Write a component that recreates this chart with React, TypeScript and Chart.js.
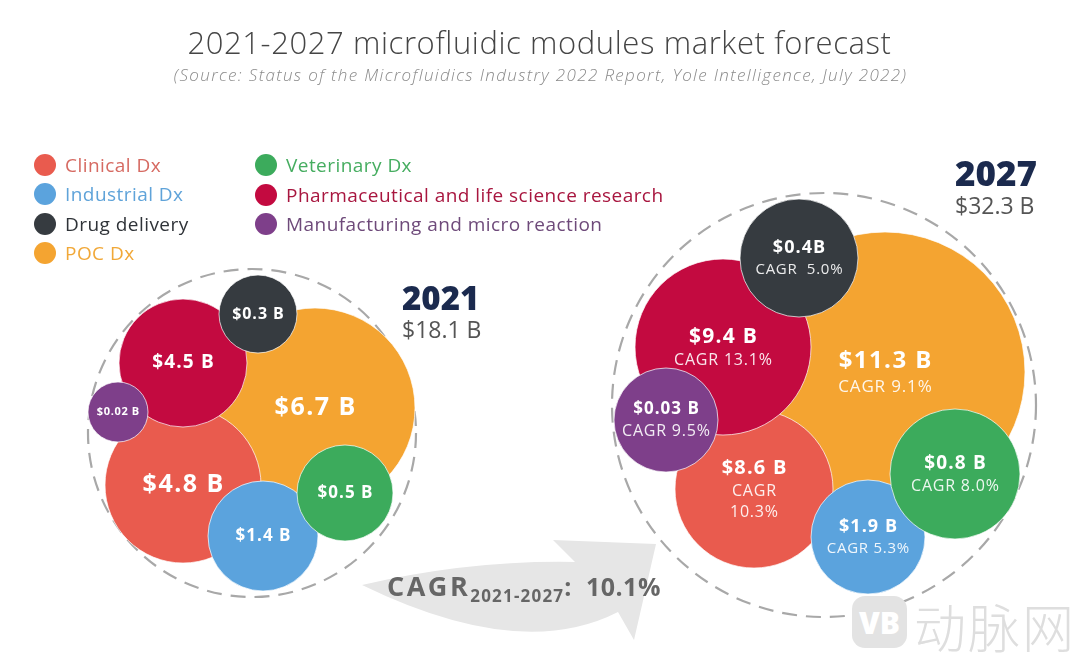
import React, { useEffect, useRef } from 'react';
import { Chart, registerables } from 'chart.js';

Chart.register(...registerables);

// ---------- data ----------
const categories = [
  'Clinical Dx',
  'Industrial Dx',
  'Drug delivery',
  'POC Dx',
  'Veterinary Dx',
  'Pharmaceutical and life science research',
  'Manufacturing and micro reaction',
];
const years = ['2021', '2027'];
const yearTotals = [18.1, 32.3];
const values2021 = [4.8, 1.4, 0.3, 6.7, 0.5, 4.5, 0.02];
const values2027 = [8.6, 1.9, 0.4, 11.3, 0.8, 9.4, 0.03];
const cagr2027 = [10.3, 5.3, 5.0, 9.1, 8.0, 13.1, 9.5];
const overallCagr = 10.1;
const title = '2021-2027 microfluidic modules market forecast';
const subtitle =
  '(Source: Status of the Microfluidics Industry 2022 Report, Yole Intelligence, July 2022)';

// ---------- layout (bubble packing, in canvas units) ----------
const layout2021 = [
  [183, 485, 78],
  [263, 536, 55],
  [258, 314, 39],
  [315, 408, 100],
  [345, 493, 48],
  [183, 363, 64],
  [118, 412, 30],
];
const layout2027 = [
  [754, 489, 79],
  [868, 537, 57],
  [799, 258, 59],
  [885, 372, 140],
  [955, 474, 65],
  [723, 347, 88],
  [666, 420, 52],
];
const rings = [
  { x: 252, y: 433, r: 164 },
  { x: 824, y: 405, r: 212 },
];

// ---------- styles ----------
const colors = ['#e95b4e', '#5ba3dd', '#363b40', '#f4a431', '#3cab5c', '#c30a40', '#7e3f8a'];
const legendTextColors = ['#d66a62', '#5fa3d9', '#2f3338', '#f1a838', '#46ad60', '#a8163f', '#6e4a7a'];
const drawOrder = [6, 2, 4, 7, 1, 5, 3];
const valueFont2021 = [25, 17, 16, 25, 17, 19, 11];
const valueFont2027 = [20, 18, 18, 24, 19, 21, 17];
const cagrFont2027 = [16, 15, 15, 17, 16, 16, 16];
const FONT = '"Open Sans", "DejaVu Sans", sans-serif';

const fmtValue = (v: number, tight = false) => `$${v}${tight ? '' : ' '}B`;

const ringsPlugin = {
  id: 'ringsAndArrow',
  beforeDatasetsDraw(chart: any) {
    const { ctx, scales } = chart;
    const xs = scales.x;
    const ys = scales.y;
    ctx.save();
    const P = (x: number, y: number): [number, number] => [xs.getPixelForValue(x), ys.getPixelForValue(y)];
    // curved arrow
    ctx.fillStyle = '#e6e6e6';
    ctx.beginPath();
    ctx.moveTo(...P(362, 585));
    ctx.quadraticCurveTo(...P(470, 560), ...P(575, 562));
    ctx.lineTo(...P(553, 540));
    ctx.lineTo(...P(656, 544));
    ctx.lineTo(...P(634, 640));
    ctx.lineTo(...P(618, 612));
    ctx.quadraticCurveTo(...P(520, 662), ...P(362, 585));
    ctx.closePath();
    ctx.fill();
    // dashed rings
    ctx.strokeStyle = '#a8a8a8';
    ctx.lineWidth = 2.2;
    ctx.setLineDash([15, 9]);
    rings.forEach((rg) => {
      const [cx, cy] = P(rg.x, rg.y);
      const rr = Math.abs(xs.getPixelForValue(rg.x + rg.r) - cx);
      ctx.beginPath();
      ctx.arc(cx, cy, rr, 0, Math.PI * 2);
      ctx.stroke();
    });
    ctx.restore();
  },
};

const labelPlugin = {
  id: 'bubbleLabels',
  afterDatasetsDraw(chart: any) {
    const ctx = chart.ctx;
    ctx.save();
    ctx.textAlign = 'center';
    ctx.textBaseline = 'middle';
    categories.forEach((_, di) => {
      const meta = chart.getDatasetMeta(di);
      meta.data.forEach((el: any, yi: number) => {
        const lines: { t: string; size: number; bold: boolean }[] = [];
        if (yi === 0) {
          lines.push({ t: fmtValue(values2021[di]), size: valueFont2021[di], bold: true });
        } else {
          lines.push({ t: fmtValue(values2027[di], di === 2), size: valueFont2027[di], bold: true });
          const c = cagr2027[di].toFixed(1) + '%';
          if (di === 0) {
            lines.push({ t: 'CAGR', size: cagrFont2027[di], bold: false });
            lines.push({ t: c, size: cagrFont2027[di], bold: false });
          } else {
            lines.push({ t: (di === 2 ? 'CAGR  ' : 'CAGR ') + c, size: cagrFont2027[di], bold: false });
          }
        }
        const lh = lines.map((l) => l.size * 1.3);
        const total = lh.reduce((a, b) => a + b, 0);
        let y = el.y - total / 2;
        lines.forEach((l, i) => {
          ctx.font = `${l.bold ? 700 : 400} ${l.size}px ${FONT}`;
          const sp = l.bold ? l.size * 0.06 : l.size * 0.05;
          (ctx as any).letterSpacing = `${sp}px`;
          ctx.fillStyle = l.bold ? '#ffffff' : 'rgba(255,255,255,0.9)';
          ctx.fillText(l.t, el.x + sp / 2, y + lh[i] / 2);
          y += lh[i];
        });
      });
    });
    ctx.restore();
  },
};

export default function App() {
  const ref = useRef<HTMLCanvasElement | null>(null);

  useEffect(() => {
    if (!ref.current) return;
    const datasets = categories.map((name, i) => ({
      label: name,
      data: [
        { x: layout2021[i][0], y: layout2021[i][1], r: layout2021[i][2], v: values2021[i] },
        { x: layout2027[i][0], y: layout2027[i][1], r: layout2027[i][2], v: values2027[i] },
      ],
      backgroundColor: colors[i],
      borderColor: 'rgba(255,255,255,0.7)',
      borderWidth: 1,
      hoverRadius: 0,
      clip: false as any,
      order: drawOrder[i],
    }));
    const chart = new Chart(ref.current, {
      type: 'bubble',
      data: { labels: years, datasets },
      options: {
        responsive: false,
        animation: false,
        events: [],
        layout: { padding: 0, autoPadding: false },
        scales: {
          x: { type: 'linear', min: 0, max: 1079, display: false },
          y: { type: 'linear', min: 0, max: 659, reverse: true, display: false },
        },
        plugins: { legend: { display: false }, tooltip: { enabled: false }, title: { display: false } },
      },
      plugins: [ringsPlugin, labelPlugin],
    });
    return () => chart.destroy();
  }, []);

  const legendCol1 = [0, 1, 2, 3];
  const legendCol2 = [4, 5, 6];
  const legendRowY1 = [165, 194, 224, 253];
  const legendRowY2 = [165, 195, 224];

  const legendItem = (i: number, x: number, y: number) => (
    <div
      key={i}
      style={{ position: 'absolute', left: x - 11, top: y - 12, height: 24, display: 'flex', alignItems: 'center' }}
    >
      <span
        style={{ width: 22, height: 22, borderRadius: '50%', background: colors[i], display: 'inline-block', marginRight: 9 }}
      />
      <span style={{ color: legendTextColors[i], fontSize: 19, letterSpacing: 0.45, fontFamily: FONT, whiteSpace: 'nowrap' }}>
        {categories[i]}
      </span>
    </div>
  );

  return (
    <div style={{ position: 'fixed', left: 0, top: 0, width: 1079, height: 659, background: '#fff', overflow: 'hidden', fontFamily: FONT }}>
      <canvas ref={ref} width={1079} height={659} style={{ position: 'absolute', left: 0, top: 0, width: 1079, height: 659 }} />
      <div style={{ position: 'absolute', left: 0, width: 1079, top: 21, textAlign: 'center', fontSize: 31, letterSpacing: 0.6, fontWeight: 300, color: '#454545', whiteSpace: 'nowrap' }}>
        {title}
      </div>
      <div style={{ position: 'absolute', left: 0, width: 1081, top: 63, textAlign: 'center', fontSize: 17, letterSpacing: 1.35, fontWeight: 300, fontStyle: 'italic', color: '#8a8a8a', whiteSpace: 'nowrap' }}>
        {subtitle}
      </div>
      {legendCol1.map((i, k) => legendItem(i, 45, legendRowY1[k]))}
      {legendCol2.map((i, k) => legendItem(i, 266, legendRowY2[k]))}

      <div style={{ position: 'absolute', left: 402, top: 281, lineHeight: 1 }}>
        <div style={{ fontSize: 33, fontWeight: 800, color: '#1b2a4e' }}>{years[0]}</div>
        <div style={{ fontSize: 23, fontWeight: 400, color: '#555', marginTop: 4 }}>{`$${yearTotals[0]} B`}</div>
      </div>
      <div style={{ position: 'absolute', left: 955, top: 155, lineHeight: 1 }}>
        <div style={{ fontSize: 35, fontWeight: 800, color: '#1b2a4e' }}>{years[1]}</div>
        <div style={{ fontSize: 23, fontWeight: 400, color: '#555', marginTop: 4 }}>{`$${yearTotals[1]} B`}</div>
      </div>

      <div style={{ position: 'absolute', left: 387, top: 572, color: '#666', fontWeight: 700, whiteSpace: 'nowrap', lineHeight: 1 }}>
        <span style={{ fontSize: 27, letterSpacing: 2.5 }}>CAGR</span>
        <span style={{ fontSize: 17, letterSpacing: 1.2, position: 'relative', top: 6 }}>2021-2027</span>
        <span style={{ fontSize: 25, letterSpacing: 0.5 }}>:&nbsp; {overallCagr}%</span>
      </div>

      <div style={{ position: 'absolute', left: 852, top: 596, width: 55, height: 52, borderRadius: 13, background: '#e3e3e3', color: '#fff', fontWeight: 800, fontSize: 30, display: 'flex', alignItems: 'center', justifyContent: 'center', fontFamily: FONT }}>
        VB
      </div>
      <div style={{ position: 'absolute', left: 914, top: 588, fontSize: 52, color: '#dedede', fontFamily: '"Noto Sans CJK SC", sans-serif', fontWeight: 300, whiteSpace: 'nowrap', letterSpacing: 2 }}>
        动脉网
      </div>
    </div>
  );
}
